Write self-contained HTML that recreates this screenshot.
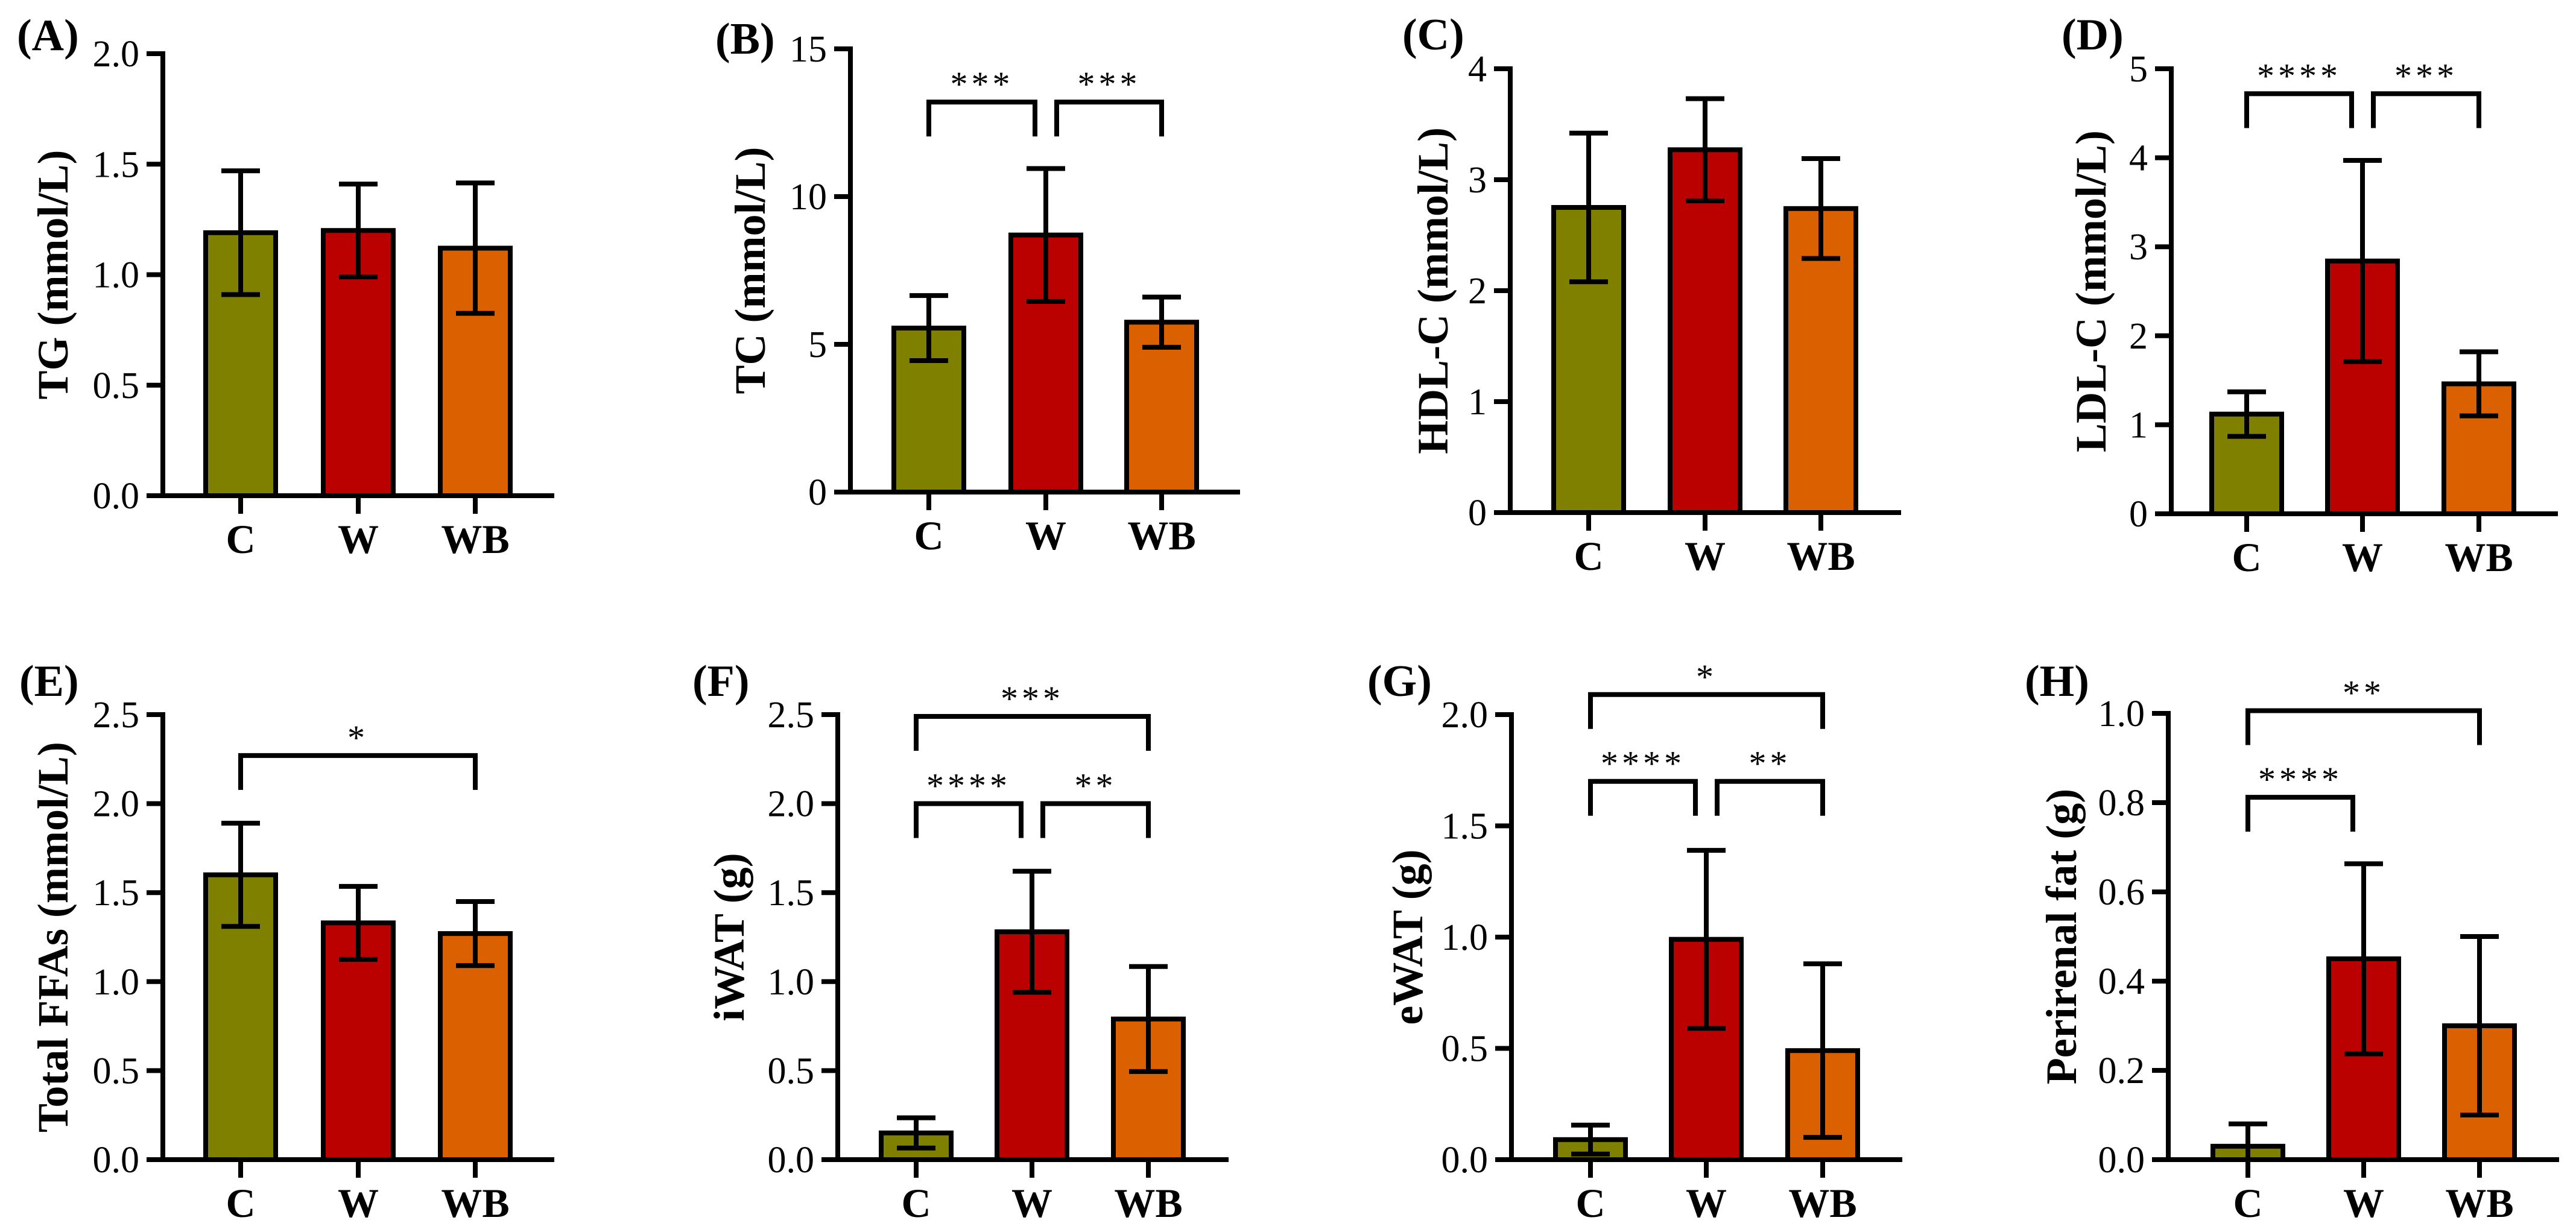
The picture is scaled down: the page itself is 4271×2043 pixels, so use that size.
<!DOCTYPE html>
<html><head><meta charset="utf-8"><style>
html,body{margin:0;padding:0;background:#fff;}
svg{display:block;font-family:"Liberation Serif","Times New Roman",Times,serif;}
svg text{font-family:"Liberation Serif","Times New Roman",Times,serif;fill:#000;}
</style></head><body>
<svg id="fig" width="4271" height="2043" viewBox="0 0 4271 2043" xmlns="http://www.w3.org/2000/svg" font-family="Liberation Serif, Times New Roman, serif"></svg>
<script>
const groups = ["C","W","WB"];
const colors = ["#808000","#BB0000","#DA6000"];

const tgMean = [1.19, 1.20, 1.12];
const tgSd = [0.28, 0.21, 0.295];
const tgTicks = ["0.0","0.5","1.0","1.5","2.0"];

const tcMean = [5.55, 8.7, 5.75];
const tcSd = [1.1, 2.25, 0.85];
const tcTicks = ["0","5","10","15"];

const hdlMean = [2.75, 3.27, 2.74];
const hdlSd = [0.67, 0.46, 0.45];
const hdlTicks = ["0","1","2","3","4"];

const ldlMean = [1.12, 2.84, 1.46];
const ldlSd = [0.25, 1.13, 0.36];
const ldlTicks = ["0","1","2","3","4","5"];

const ffaMean = [1.60, 1.33, 1.27];
const ffaSd = [0.29, 0.205, 0.18];
const ffaTicks = ["0.0","0.5","1.0","1.5","2.0","2.5"];

const iwatMean = [0.15, 1.28, 0.79];
const iwatSd = [0.085, 0.34, 0.295];
const iwatTicks = ["0.0","0.5","1.0","1.5","2.0","2.5"];

const ewatMean = [0.09, 0.99, 0.49];
const ewatSd = [0.065, 0.40, 0.39];
const ewatTicks = ["0.0","0.5","1.0","1.5","2.0"];

const periMean = [0.03, 0.45, 0.30];
const periSd = [0.05, 0.213, 0.20];
const periTicks = ["0.0","0.2","0.4","0.6","0.8","1.0"];

// significance brackets: [fromIndex, toIndex, level (data units), stars]
const tcSig = [[0,1,13.2,"***"],[1,2,13.2,"***"]];
const ldlSig = [[0,1,4.72,"****"],[1,2,4.72,"***"]];
const ffaSig = [[0,2,2.27,"*"]];
const iwatSig = [[0,2,2.49,"***"],[0,1,2.0,"****"],[1,2,2.0,"**"]];
const ewatSig = [[0,2,2.09,"*"],[0,1,1.70,"****"],[1,2,1.70,"**"]];
const periSig = [[0,2,1.006,"**"],[0,1,0.812,"****"]];

const NS = "http://www.w3.org/2000/svg";
const svg = document.getElementById("fig");
const FONT = "Liberation Serif, Times New Roman, serif";
function mk(tag, attrs, parent){
  const e = document.createElementNS(NS, tag);
  for (const k in attrs) e.setAttribute(k, attrs[k]);
  if (tag === "text") e.setAttribute("font-family", FONT);
  (parent||svg).appendChild(e);
  return e;
}

const panels = [
 {id:"a",label:"(A)",lx:28,ly:83,title:"TG (mmol/L)",tx:88,ax:270,top:89,zero:822,xend:919,cx:[399,594,788],mean:tgMean,sd:tgSd,ticks:tgTicks,sig:[]},
 {id:"b",label:"(B)",lx:1186,ly:89,title:"TC (mmol/L)",tx:1244,ax:1410,top:81,zero:816,xend:2056,cx:[1540,1734,1926],mean:tcMean,sd:tcSd,ticks:tcTicks,sig:tcSig},
 {id:"c",label:"(C)",lx:2325,ly:82,title:"HDL-C (mmol/L)",tx:2376,ax:2504,top:114,zero:850,xend:3152,cx:[2634,2827,3019],mean:hdlMean,sd:hdlSd,ticks:hdlTicks,sig:[]},
 {id:"d",label:"(D)",lx:3418,ly:82,title:"LDL-C (mmol/L)",tx:3467,ax:3600,top:114,zero:852,xend:4241,cx:[3725,3917,4110],mean:ldlMean,sd:ldlSd,ticks:ldlTicks,sig:ldlSig},
 {id:"e",label:"(E)",lx:32,ly:1154,title:"Total FFAs (mmol/L)",tx:88,ax:270,top:1185,zero:1923,xend:919,cx:[399,594,788],mean:ffaMean,sd:ffaSd,ticks:ffaTicks,sig:ffaSig},
 {id:"f",label:"(F)",lx:1148,ly:1154,title:"iWAT (g)",tx:1209,ax:1389,top:1185,zero:1923,xend:2037,cx:[1519,1711,1904],mean:iwatMean,sd:iwatSd,ticks:iwatTicks,sig:iwatSig},
 {id:"g",label:"(G)",lx:2267,ly:1154,title:"eWAT (g)",tx:2334,ax:2506,top:1185,zero:1923,xend:3154,cx:[2637,2829,3022],mean:ewatMean,sd:ewatSd,ticks:ewatTicks,sig:ewatSig},
 {id:"h",label:"(H)",lx:3357,ly:1154,title:"Perirenal fat (g)",tx:3418,ax:3595,top:1183,zero:1923,xend:4243,cx:[3727,3919,4111],mean:periMean,sd:periSd,ticks:periTicks,sig:periSig}
];

panels.forEach(p => {
  const g = mk("g", {});
  
  
  const ymax = parseFloat(p.ticks[p.ticks.length-1]);
  const y = v => p.zero - (v / ymax) * (p.zero - p.top);

  const pl = mk("text", {x:p.lx, y:p.ly, "font-size":74, "font-weight":"bold"}, g);
  pl.textContent = p.label;
  
  

  const midY = (p.top + p.zero)/2;
  const yt = mk("text", {x:0, y:0, "font-size":72, "font-weight":"bold", "text-anchor":"middle",
    transform:`translate(${p.tx+24},${midY}) rotate(-90)`}, g);
  yt.textContent = p.title;
  
  

  p.mean.forEach((m, i) => {
    const yv = y(m);
    const r = mk("rect", {x:p.cx[i]-58, y:yv, width:116, height:Math.max(p.zero - yv, 0.1),
      fill:colors[i], stroke:"#000", "stroke-width":8}, g);
    
    
  });
  p.mean.forEach((m, i) => {
    const hi = y(m + p.sd[i]);
    const lo = y(Math.max(m - p.sd[i], 0));
    const e = mk("path", {d:`M${p.cx[i]},${hi}V${lo}M${p.cx[i]-32},${hi}H${p.cx[i]+32}M${p.cx[i]-32},${lo}H${p.cx[i]+32}`,
      stroke:"#000", "stroke-width":8, fill:"none"}, g);
    
    
  });

  const ya = mk("path", {d:`M${p.ax},${p.top-4}V${p.zero+4}`, stroke:"#000", "stroke-width":8}, g);
  
  
  const xa = mk("path", {d:`M${p.ax-27},${p.zero}H${p.xend}`, stroke:"#000", "stroke-width":8}, g);
  
  

  p.ticks.forEach(t => {
    const ty = y(parseFloat(t));
    const tk = mk("path", {d:`M${p.ax-27},${ty}H${p.ax}`, stroke:"#000", "stroke-width":8}, g);
    
    
    const tl = mk("text", {x:p.ax-39, y:ty+21, "font-size":62, "text-anchor":"end"}, g);
    tl.textContent = t;
    
    
  });

  groups.forEach((gn, i) => {
    const tk = mk("path", {d:`M${p.cx[i]},${p.zero}V${p.zero+30}`, stroke:"#000", "stroke-width":8}, g);
    
    
    const xl = mk("text", {x:p.cx[i], y:p.zero+95, "font-size":68, "font-weight":"bold", "text-anchor":"middle"}, g);
    xl.textContent = gn;
    
    
  });

  p.sig.forEach(s => {
    let x1 = p.cx[s[0]], x2 = p.cx[s[1]];
    if (s[1] === 1 && s[1]-s[0] === 1) x2 -= 18;
    if (s[0] === 1 && s[1]-s[0] === 1) x1 += 18;
    const by = y(s[2]);
    const br = mk("path", {d:`M${x1},${by+57}V${by}H${x2}V${by+57}`, stroke:"#000", "stroke-width":8, fill:"none"}, g);
    
    
    const st = mk("text", {x:(x1+x2)/2, y:by-10, "font-size":58, "text-anchor":"middle", "letter-spacing":"6"}, g);
    st.textContent = s[3];
    
    
  });
});
</script>
</body></html>
